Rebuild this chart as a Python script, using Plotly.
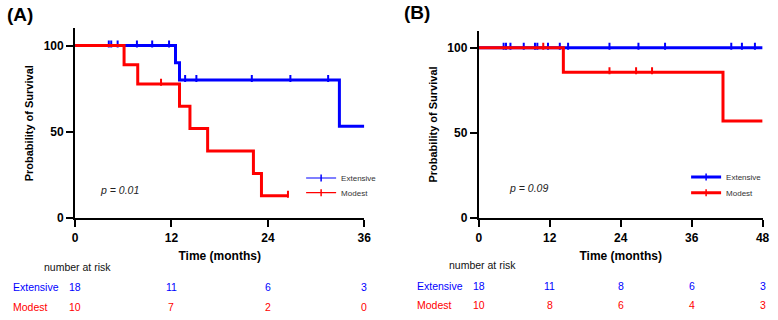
import plotly.graph_objects as go

# ---------------- data ----------------
# Panel A (follow-up up to 36 months)
a_ext_drop_t = [12.5, 13.0, 32.9]
a_ext_drop_s = [90.0, 80.0, 53.3]
a_ext_end = 36
a_ext_cens = [4.2, 4.5, 5.3, 7.7, 9.6, 11.7, 13.7, 15.1, 22.0, 26.8, 31.5]

a_mod_drop_t = [6.1, 7.8, 13.0, 14.3, 16.5, 22.2, 23.2]
a_mod_drop_s = [88.9, 77.8, 64.8, 51.9, 38.9, 25.9, 13.0]
a_mod_end = 26.5
a_mod_cens = [10.7, 26.5]

# Panel B (follow-up up to 48 months)
b_ext_drop_t = []
b_ext_drop_s = []
b_ext_end = 48
b_ext_cens = [4.2, 4.6, 5.35, 7.6, 9.5, 9.9, 11.7, 13.7, 15.1, 22.1, 27.0, 31.5, 42.7, 44.5, 46.7]

b_mod_drop_t = [14.3, 41.3]
b_mod_drop_s = [85.7, 57.1]
b_mod_end = 48
b_mod_cens = [10.9, 22.1, 26.6, 29.3]

a_ticks = [0, 12, 24, 36]
b_ticks = [0, 12, 24, 36, 48]
y_ticks = [0, 50, 100]

a_risk_ext = [18, 11, 6, 3]
a_risk_mod = [10, 7, 2, 0]
b_risk_ext = [18, 11, 8, 6, 3]
b_risk_mod = [10, 8, 6, 4, 3]

p_a = "p = 0.01"
p_b = "p = 0.09"

# ---------------- helpers ----------------
W, H = 778, 320
BLUE = "#0000ff"
RED = "#ff0000"
FONT = "Liberation Sans, Arial, sans-serif"
CENSOR_LIFT = 0.9  # style: lifts censor ticks so they sit on top of the curve


def px(x):
    return x / W


def py(y):
    return 1 - y / H


def step_xy(drop_t, drop_s, end):
    xs = [0] + list(drop_t) + [end]
    ys = [100] + list(drop_s) + [drop_s[-1] if drop_s else 100]
    return xs, ys


def surv_at(t, drop_t, drop_s):
    v = 100
    for dt, ds in zip(drop_t, drop_s):
        if dt <= t:
            v = ds
    return v


fig = go.Figure()


def add_curve(drop_t, drop_s, end, cens, color, xa, ya):
    xs, ys = step_xy(drop_t, drop_s, end)
    fig.add_trace(go.Scatter(x=xs, y=ys, mode="lines", line=dict(color=color, width=3, shape="hv"),
                             xaxis=xa, yaxis=ya, showlegend=False, hoverinfo="skip"))
    cy = [surv_at(t, drop_t, drop_s) + CENSOR_LIFT for t in cens]
    fig.add_trace(go.Scatter(x=cens, y=cy, mode="markers",
                             marker=dict(symbol="line-ns", size=5, line=dict(color=color, width=2)),
                             xaxis=xa, yaxis=ya, showlegend=False, hoverinfo="skip"))


add_curve(a_ext_drop_t, a_ext_drop_s, a_ext_end, a_ext_cens, BLUE, "x", "y")
add_curve(a_mod_drop_t, a_mod_drop_s, a_mod_end, a_mod_cens, RED, "x", "y")
add_curve(b_ext_drop_t, b_ext_drop_s, b_ext_end, b_ext_cens, BLUE, "x2", "y2")
add_curve(b_mod_drop_t, b_mod_drop_s, b_mod_end, b_mod_cens, RED, "x2", "y2")

# legend entries (one legend per entry for exact placement)
legend_specs = [("Extensive", BLUE, 1.2, "legend", "x", "y", 302, 182),
                ("Modest", RED, 1.2, "legend2", "x", "y", 302, 197),
                ("Extensive", BLUE, 3, "legend3", "x2", "y2", 692, 181),
                ("Modest", RED, 3, "legend4", "x2", "y2", 692, 197)]
legend_layout = {}
for name, color, lw, lg, xa, ya, lx, ly in legend_specs:
    fig.add_trace(go.Scatter(x=[None], y=[None], mode="lines+markers", name=name,
                             line=dict(color=color, width=lw),
                             marker=dict(symbol="line-ns", size=5, line=dict(color=color, width=1.5)),
                             xaxis=xa, yaxis=ya, legend=lg, showlegend=True))
    legend_layout[lg] = dict(x=px(lx), y=py(ly), xanchor="left", yanchor="middle",
                             bgcolor="rgba(0,0,0,0)", font=dict(family=FONT, size=8, color="#333333"),
                             itemwidth=30, tracegroupgap=0)

tickfont = dict(family=FONT, size=12, color="black", weight="bold")
titlefont = dict(family=FONT, size=12, color="black", weight="bold")
ytitlefont = dict(family=FONT, size=11, color="black", weight="bold")

common_x = dict(showline=True, linewidth=2, linecolor="black", ticks="outside", ticklen=7, tickwidth=2,
                tickcolor="black", showgrid=False, zeroline=False, tickfont=tickfont)
common_y = dict(showline=True, linewidth=2, linecolor="black", ticks="outside", ticklen=7, tickwidth=2,
                tickcolor="black", showgrid=False, zeroline=False, tickfont=tickfont, range=[0, 110],
                tickvals=y_ticks)

fig.update_layout(
    width=W, height=H, margin=dict(l=0, r=0, t=0, b=0),
    plot_bgcolor="white", paper_bgcolor="white",
    font=dict(family=FONT),
    xaxis=dict(common_x, domain=[px(73), px(366)], range=[0, 36], tickvals=a_ticks, anchor="y",
               title=dict(text="Time (months)", font=titlefont, standoff=8)),
    yaxis=dict(common_y, domain=[py(223), py(29)], anchor="x",
               title=dict(text="Probability of Survival", font=ytitlefont, standoff=8)),
    xaxis2=dict(common_x, domain=[px(482), px(769.5)], range=[0, 48], tickvals=b_ticks, anchor="y2",
                title=dict(text="Time (months)", font=titlefont, standoff=8)),
    yaxis2=dict(common_y, domain=[py(223), py(31.5)], anchor="x2",
                title=dict(text="Probability of Survival", font=ytitlefont, standoff=8)),
    **legend_layout,
)

ann = []
ann.append(dict(text="<b>(A)</b>", x=px(2), y=py(15), xref="paper", yref="paper", xanchor="left",
                yanchor="middle", showarrow=False, font=dict(family=FONT, size=19, color="black")))
ann.append(dict(text="<b>(B)</b>", x=px(404), y=py(13), xref="paper", yref="paper", xanchor="left",
                yanchor="middle", showarrow=False, font=dict(family=FONT, size=19, color="black")))
ann.append(dict(text="<i>" + p_a + "</i>", x=px(96), y=py(194), xref="paper", yref="paper", xanchor="left",
                yanchor="middle", showarrow=False, font=dict(family=FONT, size=10.5, color="#222222")))
ann.append(dict(text="<i>" + p_b + "</i>", x=px(511), y=py(192), xref="paper", yref="paper", xanchor="left",
                yanchor="middle", showarrow=False, font=dict(family=FONT, size=10.5, color="#222222")))

# risk tables
riskfont = 10.5
for lx, nx, ny, ey, my, xr, ticks, ext, mod in [
        (8, 40, 273, 293, 314, "x", a_ticks, a_risk_ext, a_risk_mod),
        (417, 450, 271, 292, 312, "x2", b_ticks, b_risk_ext, b_risk_mod)]:
    ann.append(dict(text="number at risk", x=px(nx), y=py(ny), xref="paper", yref="paper", xanchor="left",
                    yanchor="middle", showarrow=False, font=dict(family=FONT, size=riskfont, color="#111111")))
    ann.append(dict(text="Extensive", x=px(lx), y=py(ey), xref="paper", yref="paper", xanchor="left",
                    yanchor="middle", showarrow=False, font=dict(family=FONT, size=riskfont, color=BLUE)))
    ann.append(dict(text="Modest", x=px(lx), y=py(my), xref="paper", yref="paper", xanchor="left",
                    yanchor="middle", showarrow=False, font=dict(family=FONT, size=riskfont, color=RED)))
    for t, e, m in zip(ticks, ext, mod):
        ann.append(dict(text=str(e), x=t, y=py(ey), xref=xr, yref="paper", xanchor="center",
                        yanchor="middle", showarrow=False, font=dict(family=FONT, size=riskfont, color=BLUE)))
        ann.append(dict(text=str(m), x=t, y=py(my), xref=xr, yref="paper", xanchor="center",
                        yanchor="middle", showarrow=False, font=dict(family=FONT, size=riskfont, color=RED)))

fig.update_layout(annotations=ann)
fig.write_html("out.html")
